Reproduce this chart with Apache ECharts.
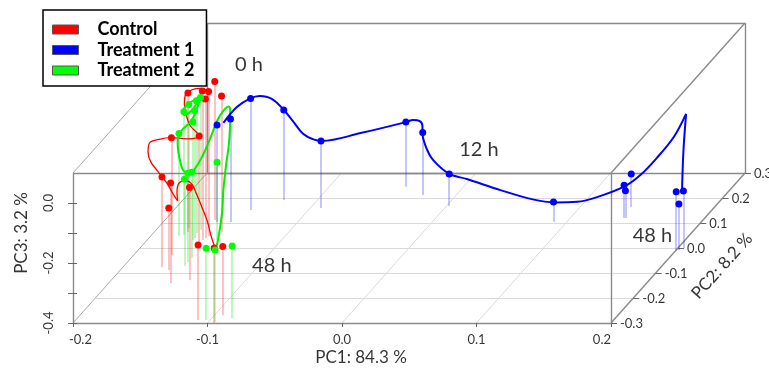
<!DOCTYPE html>
<html><head><meta charset="utf-8">
<script src="https://cdn.jsdelivr.net/npm/echarts@6/dist/echarts.min.js"></script>
<style>html,body{margin:0;padding:0;background:#fff}#c{width:769px;height:376px}</style>
</head><body><div id="c"></div>
<script>
// ---------- data (PC1, PC2, PC3) ----------
const groups = ['Control', 'Treatment 1', 'Treatment 2'];
const controlPts = [
  [-0.163, 0.112, 0.062], [-0.175, 0.064, 0.063], [-0.159, 0.032, 0.097], [-0.157, 0.048, 0.082],
  [-0.158, 0.040, 0.063], [-0.150, 0.064, 0.053], [-0.156, 0.000, -0.027], [-0.172, -0.028, -0.009],
  [-0.171, -0.076, -0.100], [-0.154, -0.140, -0.067], [-0.164, -0.088, -0.193], [-0.142, -0.128, -0.092],
  [-0.109, -0.288, -0.150], [-0.095, -0.300, -0.150], [-0.094, -0.268, -0.172]
];
const treat1Pts = [
  [-0.160, 0.104, -0.077], [-0.150, 0.104, -0.057], [-0.143, 0.152, -0.028], [-0.125, 0.192, -0.100],
  [-0.092, 0.160, -0.177], [-0.043, 0.245, -0.184], [-0.025, 0.212, -0.192], [0.002, 0.168, -0.293],
  [0.090, 0.105, -0.334], [0.140, 0.120, -0.291], [0.141, 0.120, -0.309], [0.138, 0.164, -0.290],
  [0.200, -0.008, -0.206], [0.204, 0.000, -0.210], [0.202, -0.008, -0.247]
];
const treat2Pts = [
  [-0.167, 0.072, 0.042], [-0.168, 0.060, 0.041], [-0.177, 0.080, 0.012], [-0.176, 0.052, 0.011],
  [-0.166, 0.040, 0.024], [-0.166, 0.032, -0.006], [-0.179, 0.048, -0.058], [-0.148, 0.032, -0.141],
  [-0.155, -0.056, -0.104], [-0.155, -0.040, -0.114], [-0.155, -0.072, -0.111], [-0.103, -0.288, -0.161],
  [-0.095, -0.296, -0.160], [-0.085, -0.280, -0.160]
];
// fitted trajectories (PC1, PC2, PC3)
const controlPath = [
  [-0.149,0,0.123],[-0.155,0,0.132],[-0.161,0,0.128],[-0.166,0,0.113],[-0.167,0,0.080],[-0.166,0,0.050],
  [-0.163,0,0.010],[-0.156,0,-0.027],[-0.165,0,-0.036],[-0.177,0,-0.032],[-0.185,0,-0.037],[-0.193,0,-0.050],
  [-0.194,0,-0.080],[-0.192,0,-0.113],[-0.187,0,-0.143],[-0.180,0,-0.184],[-0.175,0,-0.223],[-0.172,0,-0.243]
];
const controlPath2 = [
  [-0.172,0,-0.243],[-0.1725,0,-0.217],[-0.172,0,-0.193],[-0.169,0,-0.178],[-0.165,0,-0.177],[-0.161,0,-0.190],
  [-0.158,0,-0.220],[-0.154,0,-0.263],[-0.150,0,-0.310],[-0.147,0,-0.362],[-0.144,0,-0.401]
];
const treat1Path = [
  [-0.138,0,0.017],[-0.128,0,0.070],[-0.118,0,0.099],[-0.111,0,0.107],[-0.102,0,0.097],[-0.093,0,0.060],
  [-0.086,0,0.021],[-0.079,0,-0.018],[-0.071,0,-0.038],[-0.065,0,-0.043],[-0.036,0,-0.017],[-0.002,0,0.020],
  [0.003,0,0.027],[0.008,0,0.023],[0.010,0,0.007],[0.010,0,-0.017],[0.013,0,-0.068],[0.018,0,-0.107],
  [0.030,0,-0.153],[0.043,0,-0.170],[0.068,0,-0.207],[0.092,0,-0.238],[0.108,0,-0.248],[0.125,0,-0.246],
  [0.142,0,-0.227],[0.161,0,-0.193],[0.172,0,-0.157],[0.184,0,-0.101],[0.197,0,-0.029],[0.206,0,0.047]
];
const treat1Path2 = [[0.206,0,0.047],[0.204,0,-0.080],[0.203,0,-0.210]];
const treat2Path = [
  [-0.155,0,0.103],[-0.161,0,0.090],[-0.166,0,0.073],[-0.168,0,0.057],[-0.167,0,0.043],[-0.162,0,0.057],
  [-0.158,0,0.080],[-0.155,0,0.100],[-0.158,0,0.060],[-0.162,0,0.023],[-0.168,0,-0.003],[-0.171,0,-0.020],
  [-0.172,0,-0.047],[-0.1715,0,-0.080],[-0.170,0,-0.113],[-0.168,0,-0.140],[-0.164,0,-0.150],[-0.160,0,-0.140],
  [-0.154,0,-0.097],[-0.148,0,-0.037],[-0.142,0,0.030],[-0.137,0,0.063],[-0.134,0,0.072],[-0.133,0,0.063],
  [-0.133,0,0.020],[-0.134,0,-0.057],[-0.136,0,-0.123],[-0.138,0,-0.207],[-0.139,0,-0.283],[-0.142,0,-0.373],
  [-0.144,0,-0.407]
];
const pc1Range = [-0.2, 0.2];
const pc2Range = [-0.3, 0.3];
const pc3Range = [-0.4, 0.1];
const pc1Ticks = [-0.2, -0.1, 0.0, 0.1, 0.2];
const pc1Labels = ['-0.2', '-0.1', '0.0', '0.1', '0.2'];
const pc2Ticks = [-0.3, -0.2, -0.1, 0.0, 0.1, 0.2, 0.3];
const pc2Labels = ['-0.3', '-0.2', '-0.1', '0.0', '0.1', '0.2', '0.3'];
const pc3Ticks = [-0.4, -0.3, -0.2, -0.1, 0.0];
const pc3Labels = ['-0.4', '', '-0.2', '', '0.0'];
const axisTitles = ['PC1: 84.3 %', 'PC2: 8.2 %', 'PC3: 3.2 %'];
const noteText = ['0 h', '12 h', '48 h', '48 h'];
const notePos = [[-0.119, 0, 0.213], [0.052, 0, -0.073], [-0.102, 0, -0.46], [0.181, 0, -0.36]];

// ---------- oblique projection onto a hidden cartesian grid ----------
const W = 769, H = 376;
const X0 = 73, Y0 = 323, SX = 1345, SY = 300, DEPTH_X = 134, DEPTH_Y = 150;
function proj(p) {
  const d = (p[1] - pc2Range[0]) / (pc2Range[1] - pc2Range[0]);
  return [p[0] + d * DEPTH_X / SX, p[2] + d * DEPTH_Y / SY];
}
function shift(p, dx, dy) { const q = proj(p); return [q[0] + dx / SX, q[1] - dy / SY]; }
const xMin = pc1Range[0] - X0 / SX, xMax = xMin + W / SX;
const yMax = pc3Range[0] + Y0 / SY, yMin = yMax - H / SY;

function seg(a, b) { return { coords: [proj(a), proj(b)] }; }
function linesSeries(data, color, width, z) {
  return { type: 'lines', coordinateSystem: 'cartesian2d', data, silent: true, z: z,
    lineStyle: { color, width, opacity: 1, curveness: 0 }, effect: { show: false } };
}
const [a1, b1] = pc1Range, [a2, b2] = pc2Range, [a3, b3] = pc3Range;

// floor grid
const floorGrid = [];
pc2Ticks.forEach(t => { if (t > a2 && t < b2) floorGrid.push(seg([a1, t, a3], [b1, t, a3])); });
pc1Ticks.forEach(t => { if (t > a1 && t < b1) floorGrid.push(seg([t, a2, a3], [t, b2, a3])); });
// box edges
const boxEdges = [
  seg([a1, a2, a3], [b1, a2, a3]), seg([b1, a2, a3], [b1, a2, b3]), seg([b1, a2, b3], [a1, a2, b3]),
  seg([a1, a2, b3], [a1, a2, a3]), seg([a1, b2, b3], [b1, b2, b3]), seg([b1, b2, b3], [b1, b2, a3]),
  seg([a1, b2, a3], [b1, b2, a3]), seg([a1, b2, a3], [a1, b2, b3]),
  seg([b1, a2, b3], [b1, b2, b3]), seg([b1, a2, a3], [b1, b2, a3])
];
const leftDepth = [seg([a1, a2, b3], [a1, b2, b3]), seg([a1, a2, a3], [a1, b2, a3])];
// ticks
const tickSegs = [];
pc3Ticks.forEach(t => tickSegs.push({ coords: [shift([a1, a2, t], -5, 0), shift([a1, a2, t], 4, 0)] }));
pc2Ticks.forEach(t => tickSegs.push({ coords: [proj([b1, t, a3]), shift([b1, t, a3], 6, 0)] }));
pc1Ticks.forEach(t => tickSegs.push({ coords: [proj([t, a2, a3]), shift([t, a2, a3], 0, 4)] }));

function sticks(pts) { return pts.map(p => seg(p, [p[0], p[1], a3])); }
function lineSeries(name, path, color, width) {
  return { type: 'line', name, data: path.map(proj), smooth: 0.35, showSymbol: false, symbol: 'none',
    silent: true, z: 5, lineStyle: { color, width } };
}
function pointSeries(name, pts, color) {
  return { type: 'scatter', name, data: pts.map(proj), symbolSize: 7, z: 6, silent: true,
    itemStyle: { color, opacity: 1 } };
}
const FONT = 'Lato, "Liberation Sans", Arial, sans-serif';
function textSeries(items, extra) {
  return { type: 'scatter', symbolSize: 0, silent: true, z: 8,
    data: items.map(it => ({ name: it.text, value: it.pos, label: it.label || {} })),
    label: Object.assign({ show: true, formatter: '{b}', position: 'inside', color: '#000',
      fontFamily: FONT, fontSize: 13 }, extra) };
}
const pc1Items = pc1Ticks.map((t, i) => ({ text: pc1Labels[i],
  pos: shift([t, a2, a3], i === 0 ? -4 : 0, 17),
  label: { align: i === 0 ? 'left' : (i === pc1Ticks.length - 1 ? 'right' : 'center') } }));
const pc2Items = pc2Ticks.map((t, i) => ({ text: pc2Labels[i], pos: shift([b1, t, a3], 9, 1) }));
const pc3Items = pc3Ticks.map((t, i) => ({ text: pc3Labels[i], pos: shift([a1, a2, t], -24, 0) }));
const noteItems = noteText.map((s, i) => ({ text: s, pos: proj(notePos[i]) }));

const colors = ['#ff0000', '#0000ff', '#00ff00'];
const option = {
  animation: false,
  backgroundColor: '#ffffff',
  grid: { left: 0, right: 0, top: 0, bottom: 0 },
  xAxis: { type: 'value', min: xMin, max: xMax, show: false },
  yAxis: { type: 'value', min: yMin, max: yMax, show: false },
  legend: {
    data: groups, orient: 'vertical', left: 43, top: 10, icon: 'rect',
    itemWidth: 26, itemHeight: 9, itemGap: 1.5,
    padding: [10, 12, 6, 9], borderColor: '#000', borderWidth: 1.5, backgroundColor: '#fff',
    itemStyle: { borderColor: '#555', borderWidth: 1 },
    textStyle: { fontFamily: FONT, fontWeight: 'bold', fontSize: 18, color: '#000', lineHeight: 19,
      padding: [0, 0, 0, 14] },
    selectedMode: false, z: 20
  },
  series: [
    linesSeries(floorGrid, '#dadada', 1, 1),
    linesSeries(leftDepth, '#a8a8a8', 1, 2),
    linesSeries(boxEdges, '#8a8a8a', 1.4, 2),
    linesSeries(tickSegs, '#666', 1, 2),
    linesSeries(sticks(controlPts), 'rgba(255,0,0,0.32)', 1.5, 3),
    linesSeries(sticks(treat2Pts), 'rgba(0,230,0,0.35)', 1.5, 3),
    linesSeries(sticks(treat1Pts), 'rgba(0,0,255,0.3)', 1.5, 3),
    lineSeries('c-path', controlPath, '#ff0000', 1.3),
    lineSeries('c-path2', controlPath2, '#ff0000', 1.3),
    lineSeries('t2-path', treat2Path, '#00ee00', 2),
    lineSeries('t1-path', treat1Path, '#0000ff', 2),
    lineSeries('t1-path2', treat1Path2, '#0000ff', 2),
    pointSeries(groups[0], controlPts, colors[0]),
    pointSeries(groups[2], treat2Pts, colors[2]),
    pointSeries(groups[1], treat1Pts, colors[1]),
    textSeries(pc1Items, {}),
    textSeries(pc2Items, { align: 'left' }),
    textSeries(pc3Items, { rotate: 90 }),
    textSeries(noteItems, { fontSize: 20 }),
    textSeries([{ text: axisTitles[0], pos: shift([0, a2, a3], 19, 35) }], { fontSize: 17 }),
    textSeries([{ text: axisTitles[1], pos: shift([b1, 0, a3], 44, 18) }], { fontSize: 17, rotate: 48 }),
    textSeries([{ text: axisTitles[2], pos: shift([a1, a2, -0.1], -51, 0) }], { fontSize: 17, rotate: 90 })
  ]
};
const chart = echarts.init(document.getElementById('c'), null, { renderer: 'canvas' });
chart.setOption(option);
</script>
</body></html>
